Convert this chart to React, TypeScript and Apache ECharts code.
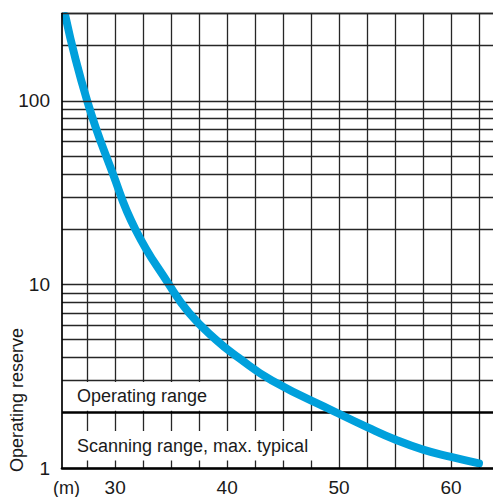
import React, { useEffect, useRef } from 'react';
import * as echarts from 'echarts';

// Curve: operating reserve vs. distance (m)
const distance = [25.55, 27.5, 29.8, 31.8, 34.8, 36.6, 39.0, 41.0, 44.0, 49.8, 52.5, 55.0, 57.5, 60.0, 62.5];
const reserve = [290, 100, 40, 20, 10, 7, 5, 4, 3, 2, 1.67, 1.43, 1.26, 1.15, 1.06];

// Axis labels and grid values
const xLabelValues = [30, 40, 50, 60];
const xGridValues = [27.5, 30, 32.5, 35, 37.5, 40, 42.5, 45, 47.5, 50, 52.5, 55, 57.5, 60, 62.5];
const yGridValues = [3, 4, 5, 6, 7, 8, 9, 20, 30, 40, 50, 60, 70, 80, 90, 200, 300];
const rangeLimit = 2;

const labels = {
  yName: 'Operating reserve',
  xUnit: '(m)',
  operating: 'Operating range',
  scanning: 'Scanning range, max. typical',
};

const X_MIN = 25.25;
const X_MAX = 63.75;
const Y_MIN = 1;
const Y_MAX = 300;

export default function App() {
  const ref = useRef<HTMLDivElement>(null);
  useEffect(() => {
    document.body.style.margin = '0';
    const chart = echarts.init(ref.current!, null, { renderer: 'svg' });
    const font = "'Liberation Sans', Arial, sans-serif";
    const textColor = '#1a1a1a';
    const gridColor = '#262626';
    chart.setOption({
      animation: false,
      grid: { left: 62, right: 0, top: 13.3, bottom: 27 },
      xAxis: {
        type: 'value',
        min: X_MIN,
        max: X_MAX,
        z: 10,
        axisLine: { show: true, lineStyle: { color: '#000', width: 2.6 } },
        axisTick: { show: false },
        splitLine: { show: false },
        axisLabel: {
          customValues: xLabelValues,
          fontSize: 19,
          fontFamily: font,
          color: textColor,
          margin: 10,
        },
      },
      yAxis: {
        type: 'log',
        logBase: 10,
        min: Y_MIN,
        max: Y_MAX,
        z: 10,
        axisLine: { show: true, lineStyle: { color: '#000', width: 1.7 } },
        axisTick: { show: false },
        axisLabel: {
          fontSize: 19,
          fontFamily: font,
          color: textColor,
          margin: 12,
          showMaxLabel: false,
        },
        splitLine: { show: true, lineStyle: { color: gridColor, width: 1.3 } },
      },
      graphic: [
        {
          type: 'text',
          x: 17,
          y: 472,
          rotation: Math.PI / 2,
          style: {
            text: labels.yName,
            fontSize: 18,
            fontFamily: font,
            fill: textColor,
            align: 'left',
            verticalAlign: 'middle',
          },
        },
        {
          type: 'text',
          x: 53,
          y: 497,
          style: {
            text: labels.xUnit,
            fontSize: 18,
            fontFamily: font,
            fill: textColor,
            align: 'left',
            verticalAlign: 'bottom',
          },
        },
      ],
      series: [
        {
          type: 'line',
          data: distance.map((d, i) => [d, reserve[i]]),
          smooth: 0.5,
          symbol: 'none',
          clip: false,
          z: 6,
          lineStyle: { color: '#00a0dc', width: 8, cap: 'round', join: 'round' },
          markLine: {
            silent: true,
            symbol: ['none', 'none'],
            z: 3,
            label: { show: false },
            emphasis: { disabled: true },
            lineStyle: { type: 'solid', color: gridColor, width: 1.3 },
            data: [
              ...xGridValues.map((v) => ({ xAxis: v })),
              ...yGridValues.map((v) => ({ yAxis: v })),
              { yAxis: rangeLimit, lineStyle: { type: 'solid', color: '#000', width: 2.6 } },
            ],
          },
          markArea: {
            silent: true,
            z: 4,
            itemStyle: { color: '#fff' },
            emphasis: { disabled: true },
            label: {
              show: true,
              position: 'insideLeft',
              distance: 15,
              color: textColor,
              fontSize: 18,
              fontFamily: font,
            },
            data: [
              [
                { name: labels.operating, xAxis: X_MIN, yAxis: 2.05 },
                { xAxis: 39, yAxis: 2.94 },
              ],
              [
                { name: labels.scanning, xAxis: X_MIN, yAxis: 1.1 },
                { xAxis: 48.3, yAxis: 1.59 },
              ],
            ],
          },
        },
      ],
    });
    return () => chart.dispose();
  }, []);
  return <div ref={ref} style={{ width: 493, height: 497 }} />;
}
